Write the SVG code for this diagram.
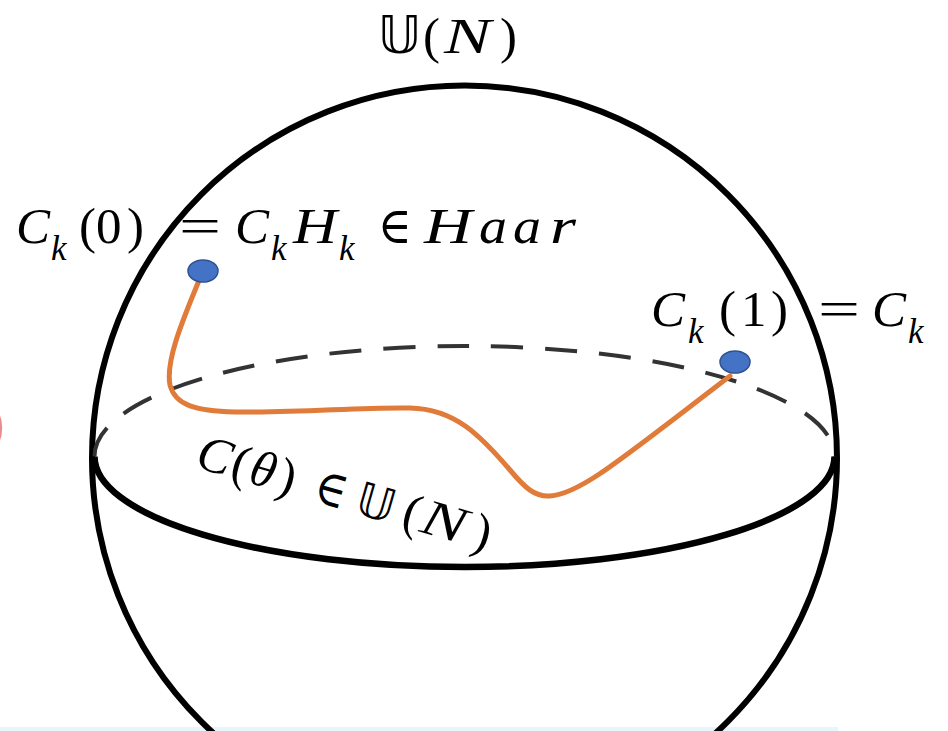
<svg xmlns="http://www.w3.org/2000/svg" width="948" height="731" viewBox="0 0 948 731">
<style>
.m{font-family:"Liberation Serif","DejaVu Serif",serif;font-size:51px;fill:#000}
.i{font-style:italic}
.s{font-size:35px}
.ds{font-family:"DejaVu Sans","DejaVu Serif",sans-serif}
.outline{fill:none;stroke:#000;stroke-width:6}
.eq{fill:none;stroke:#000;stroke-width:6.5}
.back{fill:none;stroke:#333;stroke-width:4;stroke-dasharray:32 22}
.path{fill:none;stroke:#E07B39;stroke-width:5;stroke-linecap:round}
.pt{fill:#4472C4;stroke:#2F528F;stroke-width:1.5}
</style>
<rect x="0" y="0" width="948" height="731" fill="#fff"/>
<rect x="0" y="727" width="838" height="4" fill="#e8f5fb"/>
<path d="M-8,408 A14,22 0 0 1 -8,448" fill="none" stroke="#e04040" stroke-width="4" opacity="0.6"/>
<g id="sphere">
<circle class="outline" cx="464.5" cy="458" r="372.5"/>
<path class="back" d="M94.5,456.5 A370,110.5 0 0 1 834.5,456.5"/>
<path class="eq" d="M94.5,456.5 A370,110.5 0 0 0 834.5,456.5"/>
</g>
<g id="connectors">
<path class="path" d="M200,278 C185,315 165,360 170,385 C175,405 195,411 235,412 C300,413 360,407 410,408 C455,409 480,435 510,470 C525,488 535,497 550,496 C580,494 620,460 730,376"/>
</g>
<g id="point-start">
<ellipse class="pt" cx="203" cy="271" rx="15" ry="11"/>
</g>
<g id="point-end">
<ellipse class="pt" cx="735" cy="362" rx="15" ry="11"/>
</g>
<g id="label-top">
<text class="m" y="53" font-size="54"><tspan class="ds" x="378" font-size="52">𝕌</tspan><tspan x="423">(</tspan><tspan class="i" x="444" textLength="47" lengthAdjust="spacingAndGlyphs">N</tspan><tspan x="500">)</tspan></text>
</g>
<g id="label-start">
<text class="m" y="243"><tspan class="i" x="16">C</tspan><tspan class="i s" x="51" dy="17">k</tspan><tspan x="79" dy="-17">(</tspan><tspan x="96">0</tspan><tspan x="127">)</tspan><tspan x="179" textLength="42" lengthAdjust="spacingAndGlyphs">=</tspan><tspan class="i" x="235">C</tspan><tspan class="i s" x="271" dy="17">k</tspan><tspan class="i" x="293" dy="-17" textLength="44" lengthAdjust="spacingAndGlyphs">H</tspan><tspan class="i s" x="339" dy="17">k</tspan><tspan x="378" dy="-17" textLength="34" lengthAdjust="spacingAndGlyphs">∈</tspan><tspan class="i" x="424" textLength="48" lengthAdjust="spacingAndGlyphs">H</tspan><tspan class="i" x="479" textLength="28" lengthAdjust="spacingAndGlyphs">a</tspan><tspan class="i" x="513" textLength="28" lengthAdjust="spacingAndGlyphs">a</tspan><tspan class="i" x="550" textLength="26" lengthAdjust="spacingAndGlyphs">r</tspan></text>
</g>
<g id="label-end">
<text class="m" y="326"><tspan class="i" x="651">C</tspan><tspan class="i s" x="688" dy="17">k</tspan><tspan x="719" dy="-17">(</tspan><tspan x="741">1</tspan><tspan x="771">)</tspan><tspan x="818" textLength="42" lengthAdjust="spacingAndGlyphs">=</tspan><tspan class="i" x="872">C</tspan><tspan class="i s" x="908" dy="17">k</tspan></text>
</g>
<g id="label-path">
<text class="m" font-size="49" transform="translate(194,467) rotate(16)"><tspan class="i" x="0">C</tspan><tspan x="36">(</tspan><tspan class="i" x="55">θ</tspan><tspan x="84">)</tspan><tspan x="122" textLength="32" lengthAdjust="spacingAndGlyphs">∈</tspan><tspan class="ds" x="166" font-size="46">𝕌</tspan><tspan x="214">(</tspan><tspan class="i" x="233" textLength="45" lengthAdjust="spacingAndGlyphs">N</tspan><tspan x="287">)</tspan></text>
</g>
</svg>
